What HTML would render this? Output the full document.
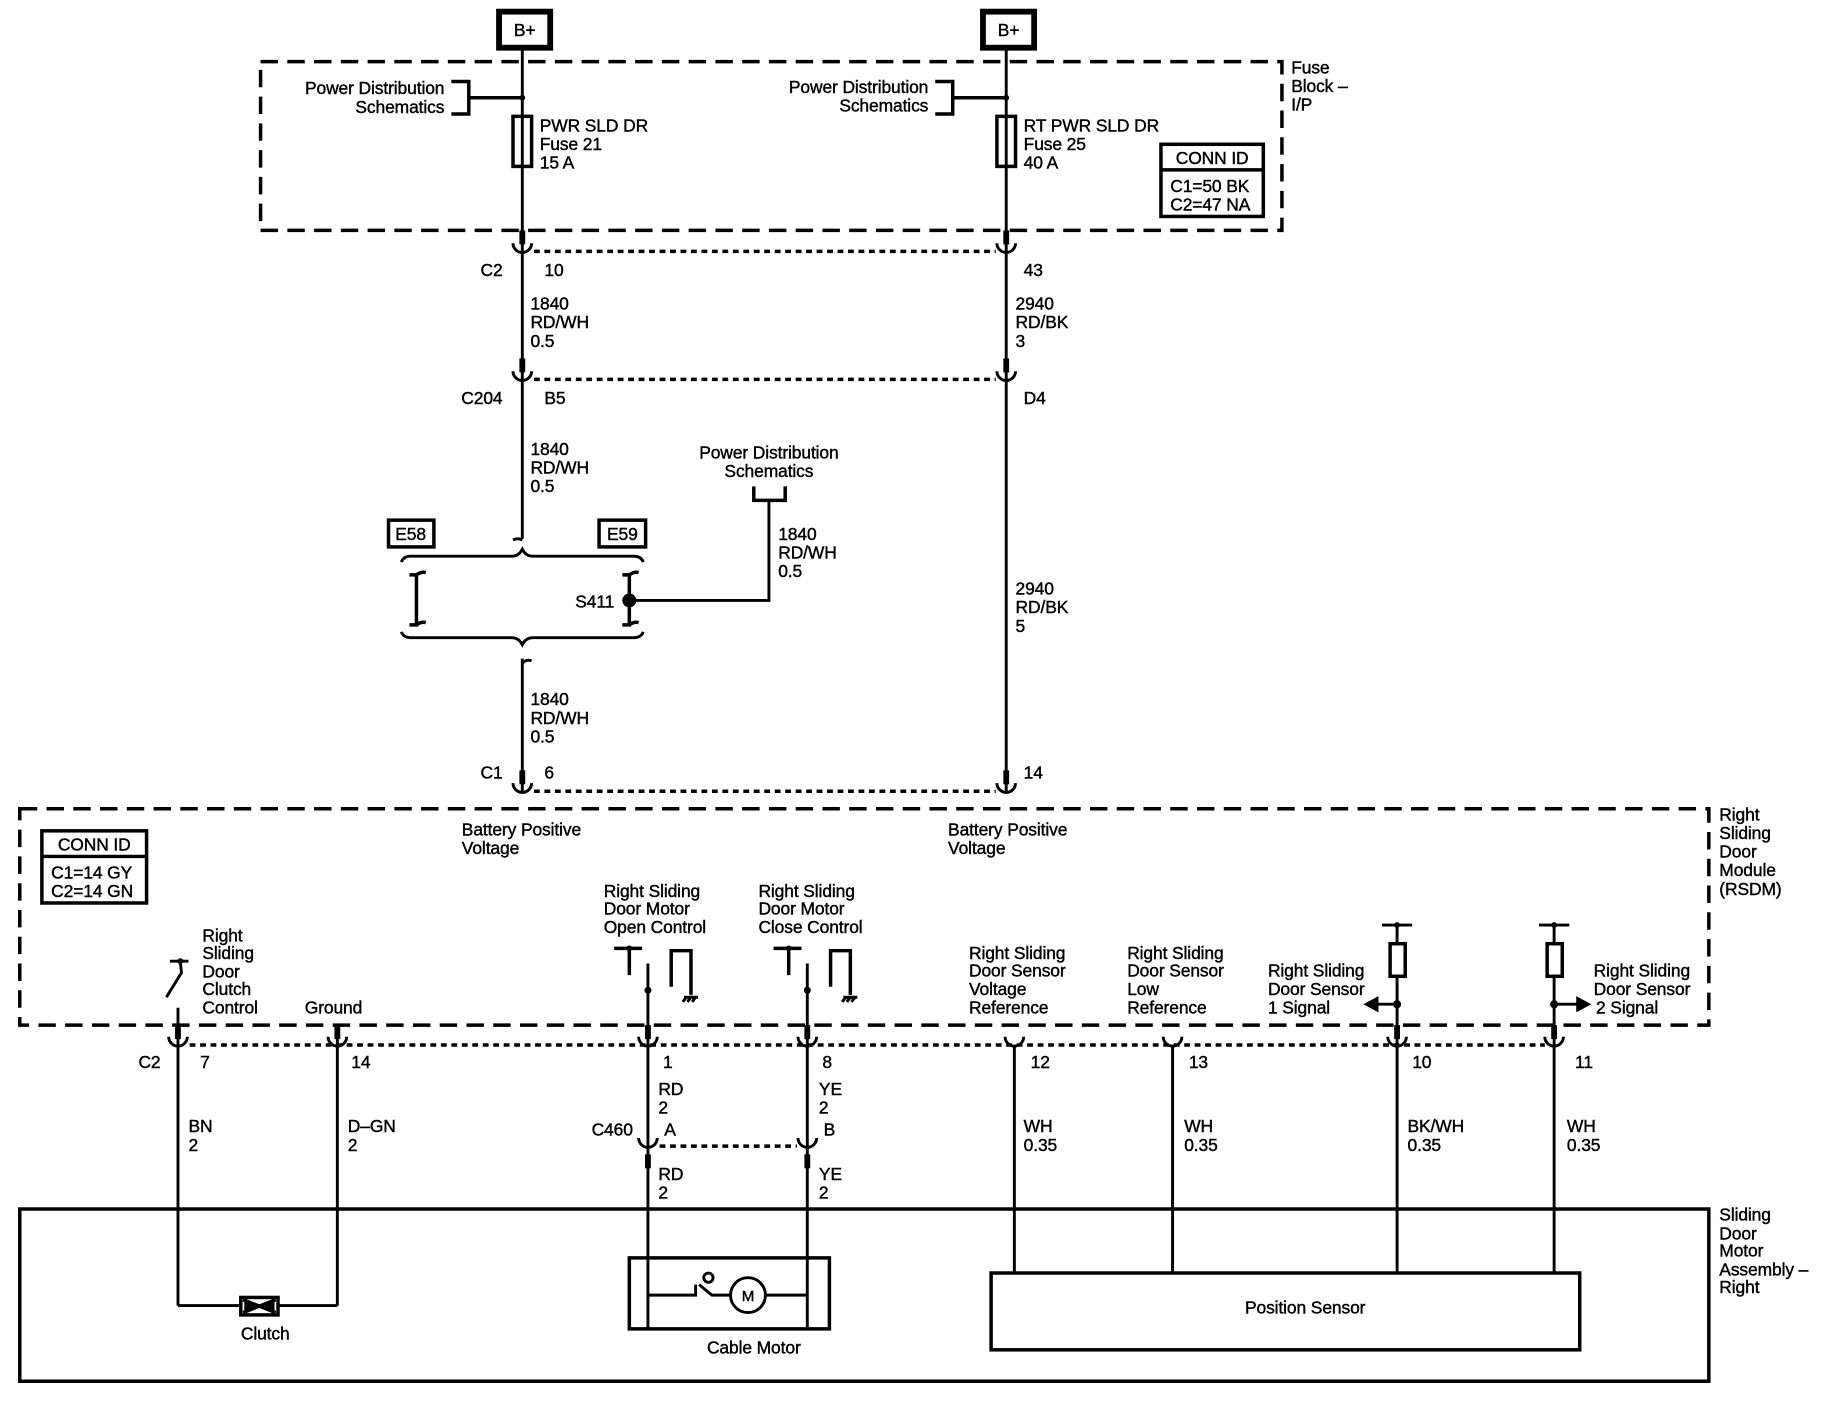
<!DOCTYPE html>
<html><head><meta charset="utf-8"><style>
html,body{margin:0;padding:0;background:#fff;}
svg{display:block;}
text{font-family:"Liberation Sans",sans-serif;font-size:15px;letter-spacing:-0.1px;fill:#000;stroke:#000;stroke-width:0.35px;}
.c{text-anchor:middle}.r{text-anchor:end}
</style></head><body>
<svg width="1824" height="1408" viewBox="0 0 1568 1210" preserveAspectRatio="none" xmlns="http://www.w3.org/2000/svg">
<g fill="none" stroke="#000" stroke-width="2.5">
<rect x="429" y="10" width="44" height="31" stroke-width="5"/>
<rect x="845" y="10" width="44" height="31" stroke-width="5"/>
<rect x="224" y="53" width="878" height="145" stroke-width="3" stroke-dasharray="15,8"/>
<rect x="17" y="695" width="1452" height="186" stroke-width="3" stroke-dasharray="15,8"/>
<rect x="17" y="1039" width="1452" height="148" stroke-width="3"/>
<line x1="449" y1="42" x2="449" y2="463"/>
<line x1="865" y1="42" x2="865" y2="680"/>
<line x1="449" y1="566" x2="449" y2="680"/>
<polyline points="388,70 403,70 403,98 388,98" stroke-width="3"/>
<line x1="403" y1="84" x2="449" y2="84" stroke-width="3"/>
<polyline points="804,70 819,70 819,98 804,98" stroke-width="3"/>
<line x1="819" y1="84" x2="865" y2="84" stroke-width="3"/>
<rect x="441" y="100" width="16" height="43" fill="#fff" stroke-width="3"/>
<rect x="857" y="100" width="16" height="43" fill="#fff" stroke-width="3"/>
<line x1="449" y1="100" x2="449" y2="143"/><line x1="865" y1="100" x2="865" y2="143"/>
<rect x="998" y="124" width="88" height="62" stroke-width="3"/><line x1="998" y1="146" x2="1086" y2="146" stroke-width="3"/>
<rect x="36" y="714" width="90" height="62" stroke-width="3"/><line x1="36" y1="736" x2="126" y2="736" stroke-width="3"/>
<g stroke-width="3" stroke-dasharray="5,4">
<line x1="459" y1="216" x2="856" y2="216"/>
<line x1="459" y1="326" x2="856" y2="326"/>
<line x1="459" y1="680" x2="856" y2="680"/>
<line x1="163" y1="898" x2="1328" y2="898"/>
<line x1="567" y1="985" x2="685" y2="985"/>
</g>
<g stroke-width="2.5">
<path d="M441,209 a8,8 0 0 0 16,0"/><path d="M857,209 a8,8 0 0 0 16,0"/>
<path d="M441,319 a8,8 0 0 0 16,0"/><path d="M857,319 a8,8 0 0 0 16,0"/>
<path d="M441,673 a8,8 0 0 0 16,0"/><path d="M857,673 a8,8 0 0 0 16,0"/>
<path d="M145,891 a8,8 0 0 0 16,0"/><path d="M282,891 a8,8 0 0 0 16,0"/>
<path d="M549,891 a8,8 0 0 0 16,0"/><path d="M686,891 a8,8 0 0 0 16,0"/>
<path d="M864,891 a8,8 0 0 0 16,0"/><path d="M1000,891 a8,8 0 0 0 16,0"/>
<path d="M1193,891 a8,8 0 0 0 16,0"/><path d="M1328,891 a8,8 0 0 0 16,0"/>
<path d="M549,978 a8,8 0 0 0 16,0"/><path d="M686,978 a8,8 0 0 0 16,0"/>
</g>
<g stroke-width="5">
<line x1="449" y1="198" x2="449" y2="210"/><line x1="865" y1="198" x2="865" y2="210"/>
<line x1="449" y1="308" x2="449" y2="320"/><line x1="865" y1="308" x2="865" y2="320"/>
<line x1="449" y1="662" x2="449" y2="674"/><line x1="865" y1="662" x2="865" y2="674"/>
<line x1="153" y1="881" x2="153" y2="893"/><line x1="290" y1="881" x2="290" y2="893"/>
<line x1="557" y1="881" x2="557" y2="893"/><line x1="694" y1="881" x2="694" y2="893"/>
<line x1="1201" y1="881" x2="1201" y2="893"/><line x1="1336" y1="881" x2="1336" y2="893"/>
<line x1="557" y1="992" x2="557" y2="1004"/><line x1="694" y1="992" x2="694" y2="1004"/>
</g>
<path d="M441,464 q4,-2 8,0"/>
<path d="M345,483 q2,-5 8,-5 L440,478 q6,0 9,-6 q3,6 9,6 L545,478 q6,0 8,5"/>
<path d="M345,543 q2,5 8,5 L440,548 q6,0 9,6 q3,-6 9,-6 L545,548 q6,0 8,-5"/>
<path d="M449,570 q4,-4 8,-2"/>
<path d="M352,494 L358,494 L358,537 L352,537 M358,494 q4,-3 8,-2 M358,537 q4,-3 8,-2" stroke-width="3"/>
<path d="M535,494 L541,494 L541,537 L535,537 M541,494 q4,-3 8,-2 M541,537 q4,-3 8,-2" stroke-width="3"/>
<rect x="334" y="447" width="39" height="23" stroke-width="3"/>
<rect x="515" y="447" width="40" height="23" stroke-width="3"/>
<polyline points="541,516 661,516 661,430"/>
<polyline points="648,418 648,430 675,430 675,418" stroke-width="3"/>
<line x1="146" y1="826" x2="162" y2="826"/>
<polyline points="155,826 156,836 143,857"/>
<line x1="153" y1="866" x2="153" y2="1122"/>
<line x1="290" y1="881" x2="290" y2="1122"/>
<g>
<line x1="528" y1="815" x2="552" y2="815" stroke-width="3"/><line x1="541" y1="815" x2="541" y2="838" stroke-width="3"/>
<line x1="557" y1="828" x2="557" y2="1142"/>
<polyline points="577,848 577,817 594,817 594,855" stroke-width="3"/>
<line x1="665" y1="815" x2="689" y2="815" stroke-width="3"/><line x1="678" y1="815" x2="678" y2="838" stroke-width="3"/>
<line x1="694" y1="828" x2="694" y2="1142"/>
<polyline points="714,848 714,817 731,817 731,855" stroke-width="3"/>
<path d="M588,857 h12 M590,857 l-3,4 M594,857 l-3,4 M598,857 l-3,4"/>
<path d="M725,857 h12 M727,857 l-3,4 M731,857 l-3,4 M735,857 l-3,4"/>
</g>
<line x1="872" y1="898" x2="872" y2="1094"/><line x1="1008" y1="898" x2="1008" y2="1094"/>
<line x1="1188" y1="795" x2="1214" y2="795"/><line x1="1201" y1="795" x2="1201" y2="1094"/>
<rect x="1195" y="811" width="13" height="28" fill="#fff" stroke-width="3"/>
<line x1="1175" y1="863" x2="1201" y2="863"/>
<line x1="1323" y1="795" x2="1349" y2="795"/><line x1="1336" y1="795" x2="1336" y2="1094"/>
<rect x="1330" y="811" width="13" height="28" fill="#fff" stroke-width="3"/>
<line x1="1336" y1="863" x2="1360" y2="863"/>
<polyline points="153,1122 207,1122"/><polyline points="239,1122 290,1122"/>
<rect x="207" y="1115" width="32" height="15" fill="#fff" stroke-width="3"/>
<rect x="541" y="1081" width="172" height="61" stroke-width="3"/>
<polyline points="557,1113 598,1113 598,1104"/>
<polyline points="601,1104 612,1113 628,1113"/>
<circle cx="609" cy="1098" r="4"/>
<circle cx="643" cy="1113" r="15"/>
<line x1="658" y1="1113" x2="694" y2="1113"/>
<rect x="852" y="1094" width="506" height="66" stroke-width="3"/>
</g>
<g fill="#000">
<circle cx="449" cy="84" r="2.5"/><circle cx="865" cy="84" r="2.5"/>
<circle cx="541" cy="516" r="6"/>
<circle cx="541" cy="815" r="2.5"/><circle cx="678" cy="815" r="2.5"/>
<circle cx="557" cy="851" r="3"/><circle cx="694" cy="851" r="3"/>
<circle cx="155" cy="826" r="2.5"/>
<circle cx="1201" cy="795" r="2.5"/><circle cx="1336" cy="795" r="2.5"/>
<circle cx="1201" cy="863" r="3.5"/><circle cx="1336" cy="863" r="3.5"/>
<polygon points="1172,863 1185,856 1185,870"/>
<polygon points="1368,863 1355,856 1355,870"/>
<path d="M209,1117 L237,1128 M237,1117 L209,1128" stroke="#000" stroke-width="3"/>
<polygon points="210,1117 223,1122 210,1128"/><polygon points="236,1117 223,1122 236,1128"/>
</g>
<text x="451" y="31" class="c">B+</text><text x="867" y="31" class="c">B+</text>
<text x="382" y="81" class="r">Power Distribution</text><text x="382" y="97" class="r">Schematics</text>
<text x="798" y="80" class="r">Power Distribution</text><text x="798" y="96" class="r">Schematics</text>
<text x="464" y="113">PWR SLD DR</text><text x="464" y="129">Fuse 21</text><text x="464" y="145">15 A</text>
<text x="880" y="113">RT PWR SLD DR</text><text x="880" y="129">Fuse 25</text><text x="880" y="145">40 A</text>
<text x="1110" y="63">Fuse</text><text x="1110" y="79">Block –</text><text x="1110" y="95">I/P</text>
<text x="1042" y="141" class="c">CONN ID</text><text x="1006" y="165">C1=50 BK</text><text x="1006" y="181">C2=47 NA</text>
<text x="432" y="237" class="r">C2</text><text x="468" y="237">10</text><text x="880" y="237">43</text>
<text x="456" y="266">1840</text><text x="456" y="282">RD/WH</text><text x="456" y="298">0.5</text>
<text x="873" y="266">2940</text><text x="873" y="282">RD/BK</text><text x="873" y="298">3</text>
<text x="432" y="347" class="r">C204</text><text x="468" y="347">B5</text><text x="880" y="347">D4</text>
<text x="456" y="391">1840</text><text x="456" y="407">RD/WH</text><text x="456" y="423">0.5</text>
<text x="661" y="394" class="c">Power Distribution</text><text x="661" y="410" class="c">Schematics</text>
<text x="669" y="464">1840</text><text x="669" y="480">RD/WH</text><text x="669" y="496">0.5</text>
<text x="353" y="464" class="c">E58</text><text x="535" y="464" class="c">E59</text>
<text x="528" y="522" class="r">S411</text>
<text x="873" y="511">2940</text><text x="873" y="527">RD/BK</text><text x="873" y="543">5</text>
<text x="456" y="606">1840</text><text x="456" y="622">RD/WH</text><text x="456" y="638">0.5</text>
<text x="432" y="669" class="r">C1</text><text x="468" y="669">6</text><text x="880" y="669">14</text>
<text x="1478" y="705">Right</text><text x="1478" y="721">Sliding</text><text x="1478" y="737">Door</text><text x="1478" y="753">Module</text><text x="1478" y="769">(RSDM)</text>
<text x="81" y="731" class="c">CONN ID</text><text x="44" y="755">C1=14 GY</text><text x="44" y="771">C2=14 GN</text>
<text x="397" y="718">Battery Positive</text><text x="397" y="734">Voltage</text>
<text x="815" y="718">Battery Positive</text><text x="815" y="734">Voltage</text>
<text x="519" y="771">Right Sliding</text><text x="519" y="786">Door Motor</text><text x="519" y="802">Open Control</text>
<text x="652" y="771">Right Sliding</text><text x="652" y="786">Door Motor</text><text x="652" y="802">Close Control</text>
<text x="174" y="809">Right</text><text x="174" y="824">Sliding</text><text x="174" y="840">Door</text><text x="174" y="855">Clutch</text><text x="174" y="871">Control</text>
<text x="262" y="871">Ground</text>
<text x="833" y="824">Right Sliding</text><text x="833" y="839">Door Sensor</text><text x="833" y="855">Voltage</text><text x="833" y="871">Reference</text>
<text x="969" y="824">Right Sliding</text><text x="969" y="839">Door Sensor</text><text x="969" y="855">Low</text><text x="969" y="871">Reference</text>
<text x="1090" y="839">Right Sliding</text><text x="1090" y="855">Door Sensor</text><text x="1090" y="871">1 Signal</text>
<text x="1370" y="839">Right Sliding</text><text x="1370" y="855">Door Sensor</text><text x="1372" y="871">2 Signal</text>
<text x="138" y="918" class="r">C2</text><text x="172" y="918">7</text><text x="302" y="918">14</text><text x="570" y="918">1</text><text x="707" y="918">8</text>
<text x="886" y="918">12</text><text x="1022" y="918">13</text><text x="1214" y="918">10</text><text x="1354" y="918">11</text>
<text x="566" y="941">RD</text><text x="566" y="957">2</text><text x="704" y="941">YE</text><text x="704" y="957">2</text>
<text x="162" y="973">BN</text><text x="162" y="989">2</text><text x="299" y="973">D–GN</text><text x="299" y="989">2</text>
<text x="880" y="973">WH</text><text x="880" y="989">0.35</text><text x="1018" y="973">WH</text><text x="1018" y="989">0.35</text>
<text x="1210" y="973">BK/WH</text><text x="1210" y="989">0.35</text><text x="1347" y="973">WH</text><text x="1347" y="989">0.35</text>
<text x="544" y="976" class="r">C460</text><text x="571" y="976">A</text><text x="708" y="976">B</text>
<text x="566" y="1014">RD</text><text x="566" y="1030">2</text><text x="704" y="1014">YE</text><text x="704" y="1030">2</text>
<text x="1478" y="1049">Sliding</text><text x="1478" y="1065">Door</text><text x="1478" y="1080">Motor</text><text x="1478" y="1096">Assembly –</text><text x="1478" y="1111">Right</text>
<text x="228" y="1151" class="c">Clutch</text>
<text x="643" y="1118" class="c" style="font-size:13px">M</text>
<text x="648" y="1163" class="c">Cable Motor</text>
<text x="1122" y="1129" class="c">Position Sensor</text>
</svg>
</body></html>
